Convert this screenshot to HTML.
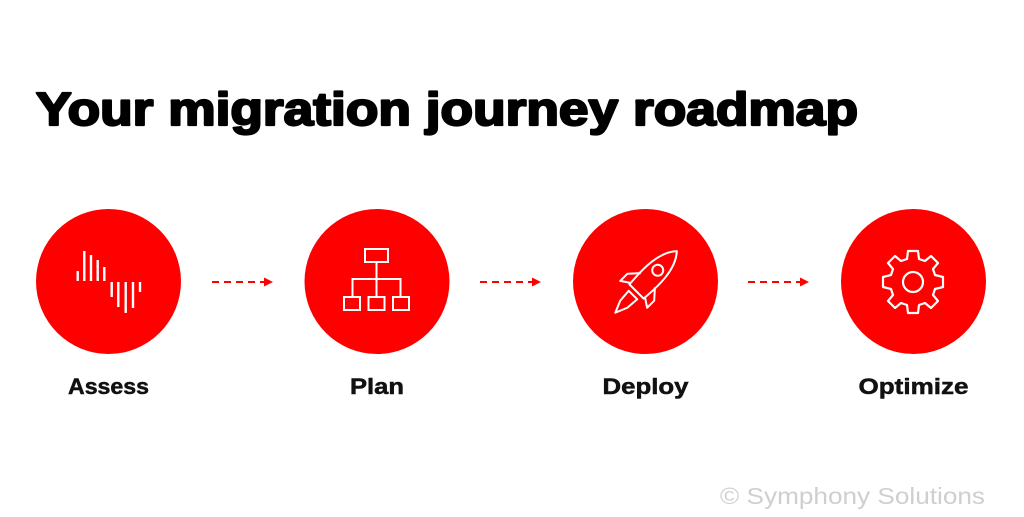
<!DOCTYPE html>
<html><head><meta charset="utf-8"><style>html,body{margin:0;padding:0;background:#fff;}svg{display:block;}</style></head>
<body>
<svg width="1024" height="517" viewBox="0 0 1024 517" xmlns="http://www.w3.org/2000/svg">
<rect width="1024" height="517" fill="#fff"/>
<text x="36" y="125" font-family="Liberation Sans, sans-serif" font-weight="bold" font-size="46" fill="#000" stroke="#000" stroke-width="2.2" stroke-linejoin="round" textLength="822" lengthAdjust="spacingAndGlyphs">Your migration journey roadmap</text>
<g fill="#ff0000">
<circle cx="108.5" cy="281.5" r="72.5"/>
<circle cx="377" cy="281.5" r="72.5"/>
<circle cx="645.5" cy="281.5" r="72.5"/>
<circle cx="913.5" cy="281.5" r="72.5"/>
</g>
<g stroke="#ff0000" stroke-width="2" stroke-dasharray="7,5">
<line x1="212" y1="282" x2="264" y2="282"/>
<line x1="480" y1="282" x2="532" y2="282"/>
<line x1="748" y1="282" x2="800" y2="282"/>
</g>
<g fill="#ff0000">
<polygon points="264,277.5 273,282 264,286.5"/>
<polygon points="532,277.5 541,282 532,286.5"/>
<polygon points="800,277.5 809,282 800,286.5"/>
</g>
<g stroke="#fff" stroke-width="2.4">
<line x1="77.7" y1="271" x2="77.7" y2="281"/>
<line x1="84.3" y1="251" x2="84.3" y2="281"/>
<line x1="91" y1="255" x2="91" y2="281"/>
<line x1="97.7" y1="260" x2="97.7" y2="281"/>
<line x1="104.3" y1="267" x2="104.3" y2="281"/>
<line x1="111.7" y1="282" x2="111.7" y2="297"/>
<line x1="118.3" y1="282" x2="118.3" y2="307"/>
<line x1="125.7" y1="282" x2="125.7" y2="313"/>
<line x1="133" y1="282" x2="133" y2="308"/>
<line x1="140" y1="282" x2="140" y2="292"/>
</g>
<g stroke="#fff" stroke-width="2" fill="none">
<rect x="365" y="249" width="23" height="13"/>
<line x1="376.5" y1="262" x2="376.5" y2="297"/>
<polyline points="352.5,297 352.5,279 400.5,279 400.5,297"/>
<rect x="344" y="297" width="16" height="13"/>
<rect x="368.5" y="297" width="16" height="13"/>
<rect x="393" y="297" width="16" height="13"/>
</g>
<g transform="translate(645,283) rotate(45)" stroke="#fff" stroke-width="2" fill="none" stroke-linejoin="round">
<path d="M0,-45 C12,-32 12,-10 10,12 L-10,12 C-12,-10 -12,-32 0,-45 Z"/>
<circle cx="0" cy="-18" r="5.5"/>
<path d="M-10,-4 L-19,6 L-19,16 L-10,10"/>
<path d="M10,-4 L19,6 L19,16 L10,10"/>
<path d="M-6,17 L6,17 L5,30 L0,42 L-5,30 Z"/>
</g>
<g transform="translate(913,282)" stroke="#fff" stroke-width="2.2" fill="none" stroke-linejoin="round">
<path d="M-5,-31 L5,-31 L6,-23 L12,-21 L18,-26 L25,-19 L20,-13 L22,-7 L30,-5 L30,5 L22,7 L20,13 L25,19 L18,26 L12,21 L6,23 L5,31 L-5,31 L-6,23 L-12,21 L-18,26 L-25,19 L-20,13 L-22,7 L-30,5 L-30,-5 L-22,-7 L-20,-13 L-25,-19 L-18,-26 L-12,-21 L-6,-23 Z"/>
<circle cx="0" cy="0" r="10"/>
</g>
<g font-family="Liberation Sans, sans-serif" font-weight="bold" font-size="22" fill="#111" stroke="#111" stroke-width="0.5" text-anchor="middle">
<text x="108.5" y="394" textLength="81" lengthAdjust="spacingAndGlyphs">Assess</text>
<text x="377" y="394" textLength="54" lengthAdjust="spacingAndGlyphs">Plan</text>
<text x="645.5" y="394" textLength="86" lengthAdjust="spacingAndGlyphs">Deploy</text>
<text x="913.5" y="394" textLength="110" lengthAdjust="spacingAndGlyphs">Optimize</text>
</g>
<text x="720" y="504" font-family="Liberation Sans, sans-serif" font-size="23" fill="#cfcfcf" textLength="265" lengthAdjust="spacingAndGlyphs">© Symphony Solutions</text>
</svg>
</body></html>
